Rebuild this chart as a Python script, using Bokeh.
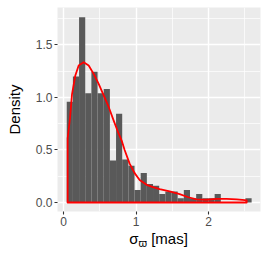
from bokeh.plotting import figure
from bokeh.models import Range1d, FixedTicker, PrintfTickFormatter, Div
from bokeh.layouts import column
from bokeh.embed import file_html
from bokeh.resources import INLINE

# ---- data ----
bin_width = 0.085
bin_centers = [0.085, 0.170, 0.255, 0.340, 0.425, 0.510, 0.595, 0.680, 0.765, 0.850,
               0.935, 1.020, 1.105, 1.190, 1.275, 1.360, 1.445, 1.530, 1.615, 1.700,
               1.785, 1.870, 1.955, 2.040, 2.125, 2.210, 2.295, 2.380, 2.465, 2.550]
bin_density = [0.96, 1.20, 1.765, 1.04, 1.245, 1.04, 1.08, 0.40, 0.845, 0.41,
               0.35, 0.12, 0.28, 0.175, 0.16, 0.08, 0.105, 0.105, 0.04, 0.12,
               0.04, 0.08, 0.04, 0.04, 0.08, 0.0, 0.0, 0.0, 0.0, 0.04]

kde_x = [0.055, 0.070, 0.087, 0.115, 0.161, 0.207, 0.276, 0.345, 0.414, 0.483,
         0.552, 0.621, 0.690, 0.759, 0.800, 0.841, 0.910, 0.979, 1.048, 1.145,
         1.232, 1.324, 1.462, 1.600, 1.720, 1.834, 1.972, 2.110, 2.248, 2.386,
         2.500, 2.524]
kde_y = [0.61, 0.70, 0.80, 1.03, 1.21, 1.305, 1.336, 1.305, 1.225, 1.13,
         1.02, 0.91, 0.78, 0.655, 0.59, 0.50, 0.37, 0.28, 0.215, 0.168,
         0.146, 0.128, 0.105, 0.08, 0.05, 0.03, 0.026, 0.034, 0.035, 0.03,
         0.022, 0.02]

x_ticks = [0, 1, 2]
x_minor = [0.5, 1.5, 2.5]
y_ticks = [0.0, 0.5, 1.0, 1.5]
y_minor = [0.25, 0.75, 1.25, 1.75]

y_title = "Density"
x_title_main = "σ"
x_title_sub = "ϖ"
x_title_unit = "[mas]"

FONT = "Liberation Sans"

p = figure(frame_width=203, frame_height=204,
           x_range=Range1d(-0.085, 2.715), y_range=Range1d(-0.0857, 1.857),
           output_backend="svg", toolbar_location=None,
           min_border_left=57, min_border_top=7, min_border_right=6, min_border_bottom=22,
           background_fill_color="#EBEBEB", border_fill_color="white")
p.outline_line_color = None

# grid
p.xgrid.ticker = FixedTicker(ticks=x_ticks, minor_ticks=x_minor)
p.ygrid.ticker = FixedTicker(ticks=y_ticks, minor_ticks=y_minor)
for g in (p.xgrid, p.ygrid):
    g.grid_line_color = "white"
    g.grid_line_width = 1.4
    g.minor_grid_line_color = "white"
    g.minor_grid_line_width = 0.7

# axes
p.xaxis.ticker = FixedTicker(ticks=x_ticks, minor_ticks=x_minor)
p.yaxis.ticker = FixedTicker(ticks=y_ticks, minor_ticks=y_minor)
p.yaxis.formatter = PrintfTickFormatter(format="%.1f")
for ax in (p.xaxis, p.yaxis):
    ax.axis_line_color = None
    ax.major_tick_in = 0
    ax.major_tick_out = 3
    ax.major_tick_line_color = "#333333"
    ax.major_tick_line_width = 1.1
    ax.minor_tick_in = 0
    ax.minor_tick_out = 0
    ax.major_label_text_font = FONT
    ax.major_label_text_font_size = "12px"
    ax.major_label_text_color = "#4D4D4D"
    ax.major_label_standoff = 2

p.yaxis.axis_label = y_title
p.yaxis.axis_label_text_font = FONT
p.yaxis.axis_label_text_font_size = "15px"
p.yaxis.axis_label_text_font_style = "normal"
p.yaxis.axis_label_text_color = "black"
p.yaxis.axis_label_standoff = 10

# histogram
p.vbar(x=bin_centers, width=bin_width, top=bin_density, bottom=0,
       fill_color="#595959", line_color=None)

# density outline (closed polygon)
px = [kde_x[0]] + kde_x + [kde_x[-1]]
py = [0.0] + kde_y + [0.0]
p.patch(px, py, fill_alpha=0, line_color="red", line_width=1.8, line_join="round")

# x-axis title with subscript (real HTML text)
title_html = (f'{x_title_main}<span style="font-size:11px; position:relative; top:3px;">'
              f'{x_title_sub}</span> {x_title_unit}')
div = Div(text=title_html, width=203, height=29,
          styles={"margin-left": "57px", "margin-top": "-2px", "text-align": "center",
                  "font-family": FONT, "font-size": "15px", "line-height": "15px",
                  "color": "black", "padding-top": "0px"})

layout = column(p, div, spacing=0)
open("out.html", "w").write(file_html(layout, INLINE))
